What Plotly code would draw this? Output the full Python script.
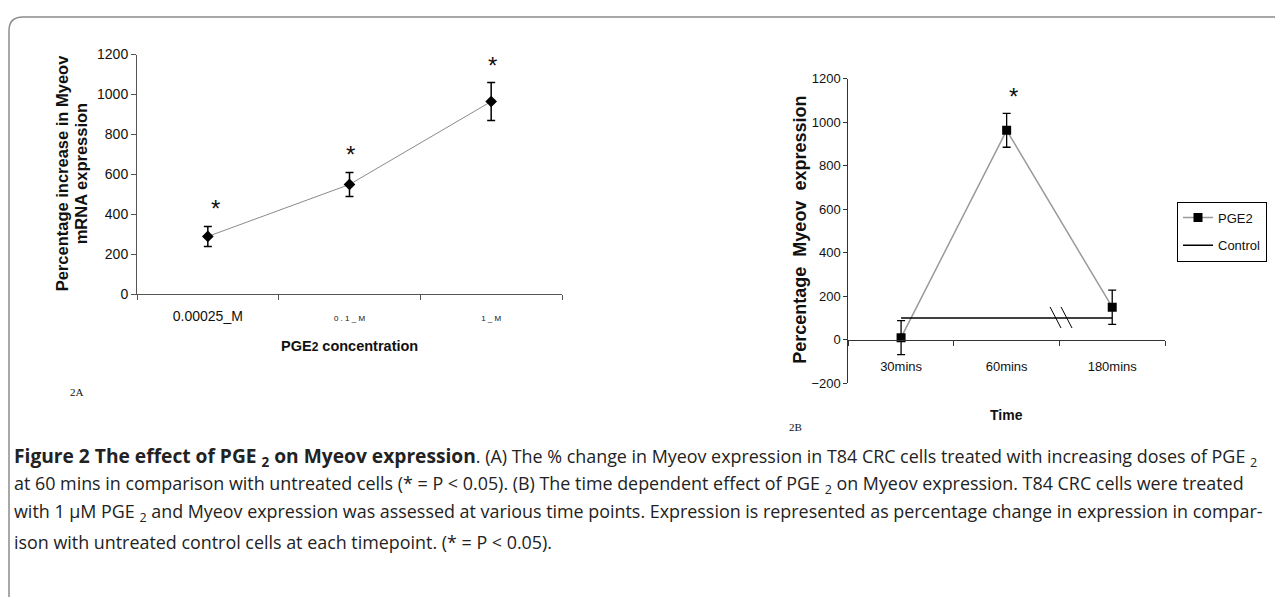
import plotly.graph_objects as go

# Figure size and empirical mapping from reference-screen pixels to figure coordinates
W, H = 1275, 600
OX = 8            # horizontal page offset
OY, SY = 16.7, 0.967   # vertical page offset and scale seen in the photographed page

# ---------- Data ----------
conc_categories = ["0.00025_M", "0.1_M", "1_M"]
conc_ticktext = ["0.00025_M",
                 "<span style='font-size:8px'>0 . 1 _ M</span>",
                 "<span style='font-size:8px'>1 _ M</span>"]
conc_values = [290, 550, 965]
conc_errors = [50, 60, 95]

time_categories = ["30mins", "60mins", "180mins"]
pge2_values = [10, 963, 150]
pge2_errors = [78, 78, 79]
control_values = [100, 100, 100]


def px_x(p):
    return (p - OX) / W


def px_y(p):
    return 1 - ((p - OY) / SY) / H


fig = go.Figure()

# Panel A
fig.add_trace(go.Scatter(
    x=conc_categories, y=conc_values, mode="lines+markers",
    line=dict(color="#8a8a8a", width=1),
    marker=dict(symbol="diamond", size=9, color="black"),
    error_y=dict(type="data", array=conc_errors, color="black", thickness=1.5, width=4),
    xaxis="x", yaxis="y", showlegend=False))

# Panel B
fig.add_trace(go.Scatter(
    x=time_categories, y=pge2_values, mode="lines+markers", name="PGE2",
    line=dict(color="#9a9a9a", width=1.5),
    marker=dict(symbol="square", size=9, color="black"),
    error_y=dict(type="data", array=pge2_errors, color="black", thickness=1.3, width=4),
    xaxis="x2", yaxis="y2", legendgroup="a"))
fig.add_trace(go.Scatter(
    x=time_categories, y=control_values, mode="lines", name="Control",
    line=dict(color="black", width=1.5),
    xaxis="x2", yaxis="y2", legendgroup="b"))

axis_font = dict(family="Arial, Liberation Sans, sans-serif", color="#111")

fig.update_layout(
    width=W, height=H,
    margin=dict(l=0, r=0, t=0, b=0),
    paper_bgcolor="white", plot_bgcolor="white",
    font=dict(family="Arial, Liberation Sans, sans-serif", color="#111"),
    xaxis=dict(domain=[px_x(137), px_x(562)], anchor="y", type="category",
               categoryorder="array", categoryarray=conc_categories,
               tickvals=conc_categories, ticktext=conc_ticktext,
               range=[-0.5, 2.5], tickson="boundaries", ticks="outside", ticklen=5,
               tickcolor="#555", showline=True, linecolor="#555", linewidth=1,
               showgrid=False, zeroline=False, tickfont=dict(size=14, **axis_font),
               ticklabelstandoff=9),
    yaxis=dict(domain=[px_y(293.3), px_y(55)], anchor="x", range=[0, 1200], dtick=200,
               ticks="outside", ticklen=5, tickcolor="#555", showline=True,
               linecolor="#555", linewidth=1, showgrid=False, zeroline=False,
               tickfont=dict(size=14, **axis_font)),
    xaxis2=dict(domain=[px_x(848.3), px_x(1165)], anchor="free", position=px_y(338.3),
                type="category", categoryorder="array", categoryarray=time_categories,
                range=[-0.5, 2.5], tickson="boundaries", ticks="outside", ticklen=5,
                tickcolor="#333", showline=True, linecolor="#333", linewidth=1,
                showgrid=False, zeroline=False, tickfont=dict(size=13, **axis_font),
                ticklabelstandoff=15),
    yaxis2=dict(domain=[px_y(381.7), px_y(79)], anchor="x2", range=[-200, 1200], dtick=200,
                ticks="outside", ticklen=4, tickcolor="#333", showline=True,
                linecolor="#333", linewidth=1, showgrid=False, zeroline=False,
                tickfont=dict(size=13, **axis_font)),
    legend=dict(x=px_x(1177), y=px_y(201), xanchor="left", yanchor="top",
                bordercolor="black", borderwidth=1, bgcolor="white",
                font=dict(size=13, family="Arial, Liberation Sans, sans-serif", color="#111"),
                traceorder="grouped", tracegroupgap=8),
)

annotations = []
# asterisks above the error bars
for i, c in enumerate(conc_categories):
    annotations.append(dict(x=c, y=conc_values[i] + conc_errors[i], xref="x", yref="y",
                            text="*", showarrow=False, xanchor="center", yanchor="bottom",
                            xshift=8 if i == 0 else 1, yshift=2,
                            font=dict(size=24, family="Arial", color="#111")))
annotations.append(dict(x=time_categories[1], y=pge2_values[1] + pge2_errors[1], xref="x2", yref="y2",
                        text="*", showarrow=False, xanchor="center", yanchor="bottom",
                        xshift=7, yshift=1,
                        font=dict(size=24, family="Arial", color="#111")))

# axis titles and panel labels
title_font = dict(family="Arial, Liberation Sans, sans-serif", color="#111")


def label(sx, sy, text, size, angle=0, fam=None):
    f = dict(size=size, **title_font) if fam is None else dict(size=size, family=fam, color="#111")
    return dict(x=px_x(sx), y=px_y(sy), xref="paper", yref="paper", xanchor="center",
                yanchor="middle", textangle=angle, text=text, showarrow=False, font=f)


serif = "Liberation Serif, Times New Roman, serif"
annotations += [
    label(62, 173, "<b>Percentage increase in Myeov</b>", 16.5, -90),
    label(81, 173, "<b>mRNA expression</b>", 16.5, -90),
    label(349, 345, "<b>PGE<span style='font-size:12px'>2</span> concentration</b>", 14.5),
    label(800, 229, "<b>Percentage  Myeov  expression</b>", 18, -90),
    label(1006, 413, "<b>Time</b>", 14),
    label(77, 390, "2A", 11, fam=serif),
    label(795, 425, "2B", 11, fam=serif),
]

cap_font = dict(size=17.9, family="Open Sans, Noto Sans, sans-serif", color="#222")
caption_lines = [
    "<span style='font-size:19.2px'><b>Figure 2 The effect of PGE <sub>2</sub> on Myeov expression</b></span>. (A) The % change in Myeov expression in T84 CRC cells treated with increasing doses of PGE <sub>2</sub>",
    "at 60 mins in comparison with untreated cells (* = P &lt; 0.05). (B) The time dependent effect of PGE <sub>2</sub> on Myeov expression. T84 CRC cells were treated",
    "with 1 µM PGE <sub>2</sub> and Myeov expression was assessed at various time points. Expression is represented as percentage change in expression in compar-",
    "ison with untreated control cells at each timepoint. (* = P &lt; 0.05).",
]
caption_y = [454, 482, 510, 539]
for t, yy in zip(caption_lines, caption_y):
    annotations.append(dict(x=px_x(12), y=px_y(yy), xref="paper", yref="paper",
                            xanchor="left", yanchor="middle", text=t, showarrow=False,
                            font=cap_font))

fig.update_layout(annotations=annotations)

# border (rounded top-left corner) and axis break marks (decorations)
bx0, r = 9, 14
top = 1.0 - 1.0 / H   # top edge of the figure
path = (f"M {px_x(bx0)},-0.01 L {px_x(bx0)},{top - r / H} "
        f"Q {px_x(bx0)},{top} {px_x(bx0 + r)},{top} L 1.01,{top}")
shapes = [dict(type="path", path=path, xref="paper", yref="paper",
               line=dict(color="#8c8c8c", width=1.5))]
for x0 in (1050, 1061):
    shapes.append(dict(type="line", xref="paper", yref="paper",
                       x0=px_x(x0), y0=px_y(305.7), x1=px_x(x0 + 11), y1=px_y(326.7),
                       line=dict(color="black", width=1)))
fig.update_layout(shapes=shapes)

fig.write_html("out.html")
